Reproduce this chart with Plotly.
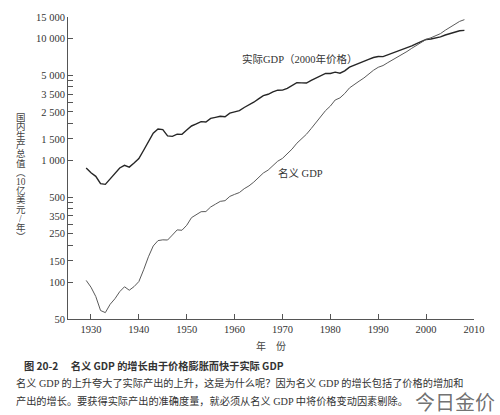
import plotly.graph_objects as go
import math

years = list(range(1929, 2009))

real_gdp = [865, 791, 740, 644, 636, 704, 767, 866, 911, 880,
            951, 1034, 1211, 1435, 1671, 1806, 1786, 1590, 1575, 1643,
            1635, 1777, 1915, 1989, 2080, 2066, 2213, 2256, 2301, 2280,
            2441, 2502, 2560, 2715, 2834, 2999, 3191, 3399, 3485, 3653,
            3765, 3772, 3899, 4105, 4342, 4320, 4311, 4541, 4751, 5015,
            5173, 5162, 5292, 5189, 5424, 5814, 6054, 6264, 6475, 6743,
            6981, 7113, 7101, 7337, 7533, 7836, 8032, 8329, 8704, 9067,
            9470, 9817, 9891, 10049, 10301, 10676, 11003, 11319, 11566, 11652]

nominal_gdp = [103.6, 91.2, 76.5, 58.7, 56.4, 66.0, 73.3, 83.8, 91.9, 86.1,
               92.2, 101.4, 126.7, 161.9, 198.6, 219.8, 223.0, 222.2, 244.1, 269.1,
               267.2, 293.7, 339.3, 358.3, 379.3, 380.4, 414.7, 437.4, 461.1, 467.2,
               506.6, 526.4, 544.8, 585.7, 617.8, 663.6, 719.1, 787.8, 832.6, 910.0,
               984.6, 1038.5, 1127.1, 1238.3, 1382.7, 1500.0, 1638.3, 1825.3, 2030.9, 2294.7,
               2563.3, 2789.5, 3128.4, 3255.0, 3536.7, 3933.2, 4220.3, 4462.8, 4739.5, 5103.8,
               5484.4, 5803.1, 5995.9, 6337.7, 6657.4, 7072.2, 7397.7, 7816.9, 8304.3, 8747.0,
               9268.4, 9817.0, 10128.0, 10469.6, 10960.8, 11685.9, 12421.9, 13178.4, 13807.5, 14264.6]

x_ticks = [1930, 1940, 1950, 1960, 1970, 1980, 1990, 2000, 2010]
y_tick_vals = [50, 100, 150, 200, 250, 300, 350, 400, 450, 500,
               1000, 1500, 2000, 2500, 3000, 3500, 4000, 4500, 5000, 10000, 15000]
y_tick_text = ["50", "100", "150", "", "250", "", "350", "", "", "500",
               "1 000", "1 500", "", "2 500", "", "3 500", "", "", "5 000", "10 000", "15 000"]

y_title_chars = ["国", "内", "生", "产", "总", "值", "︵", "10", "亿", "美", "元", "/", "年", "︶"]

SERIF = "Liberation Serif, Noto Sans CJK SC"
CJK = "Noto Sans CJK SC"
TXT = "#333333"

W, H = 500, 415
ML, MR, MT, MB = 68, 26, 14, 96
PW = W - ML - MR
PH = H - MT - MB


def pix(px, py_top):
    """pixel (from top-left) -> paper coords"""
    return (px - ML) / PW, ((H - py_top) - MB) / PH


fig = go.Figure()
fig.add_trace(go.Scatter(x=years, y=real_gdp, mode="lines",
                         line=dict(color="#262626", width=1.4), name="实际GDP"))
fig.add_trace(go.Scatter(x=years, y=nominal_gdp, mode="lines",
                         line=dict(color="#5a5a5a", width=1.0), name="名义 GDP"))

ann = []
ann.append(dict(text="实际GDP（2000年价格）", x=1961.1, y=math.log10(6750), xref="x", yref="y",
                xanchor="left", yanchor="middle", showarrow=False,
                font=dict(family=SERIF, size=10.5, color=TXT)))
ann.append(dict(text="名义 GDP", x=1968.6, y=math.log10(784), xref="x", yref="y",
                xanchor="left", yanchor="middle", showarrow=False,
                font=dict(family=SERIF, size=10.5, color=TXT)))
for i, ch in enumerate(y_title_chars):
    xx, yy = pix(20.5, 115 + i * 9.3)
    ann.append(dict(text=ch, x=xx, y=yy, xref="paper", yref="paper",
                    showarrow=False, xanchor="center", yanchor="middle",
                    height=9, borderpad=0,
                    font=dict(family=SERIF, size=9.5, color="#444")))

xx, yy = pix(271, 346)
ann.append(dict(text="年　份", x=xx, y=yy, xref="paper", yref="paper", showarrow=False,
                xanchor="center", yanchor="middle", font=dict(family=CJK, size=10, color="#444")))
xx, yy = pix(22, 366)
ann.append(dict(text="<b>图 20-2　 名义 GDP 的增长由于价格膨胀而快于实际 GDP</b>", x=xx, y=yy,
                xref="paper", yref="paper", showarrow=False, xanchor="left", yanchor="middle",
                font=dict(family=CJK, size=10.2, color="#333")))
xx, yy = pix(14, 383.5)
ann.append(dict(text="名义 GDP 的上升夸大了实际产出的上升，这是为什么呢？因为名义 GDP 的增长包括了价格的增加和",
                x=xx, y=yy, xref="paper", yref="paper", showarrow=False, xanchor="left", yanchor="middle",
                font=dict(family=SERIF, size=10.2, color="#333")))
xx, yy = pix(14, 402)
ann.append(dict(text="产出的增长。要获得实际产出的准确度量，就必须从名义 GDP 中将价格变动因素剔除。",
                x=xx, y=yy, xref="paper", yref="paper", showarrow=False, xanchor="left", yanchor="middle",
                font=dict(family=SERIF, size=10.2, color="#333")))
xx, yy = pix(455, 402)
ann.append(dict(text="今日金价", x=xx, y=yy, xref="paper", yref="paper", showarrow=False,
                xanchor="center", yanchor="middle",
                font=dict(family=CJK, size=20, color="rgba(95,95,95,0.9)")))

fig.update_layout(
    width=W, height=H,
    margin=dict(l=ML, r=MR, t=MT, b=MB),
    paper_bgcolor="white", plot_bgcolor="white",
    showlegend=False,
    font=dict(family=SERIF, color=TXT, size=10.5),
    annotations=ann,
)
fig.update_xaxes(
    range=[1925.2, 2010], tickvals=x_ticks, ticks="inside", ticklen=5,
    tickcolor="#555", showline=True, linecolor="#555", linewidth=1,
    showgrid=False, zeroline=False, tickfont=dict(family=SERIF, size=10.5, color=TXT),
)
fig.update_yaxes(
    type="log", range=[math.log10(50), math.log10(15000)],
    tickvals=y_tick_vals, ticktext=y_tick_text, ticks="inside", ticklen=5,
    tickcolor="#555", showline=True, linecolor="#555", linewidth=1,
    showgrid=False, zeroline=False, tickfont=dict(family=SERIF, size=10.5, color=TXT),
)

fig.write_html("out.html")
